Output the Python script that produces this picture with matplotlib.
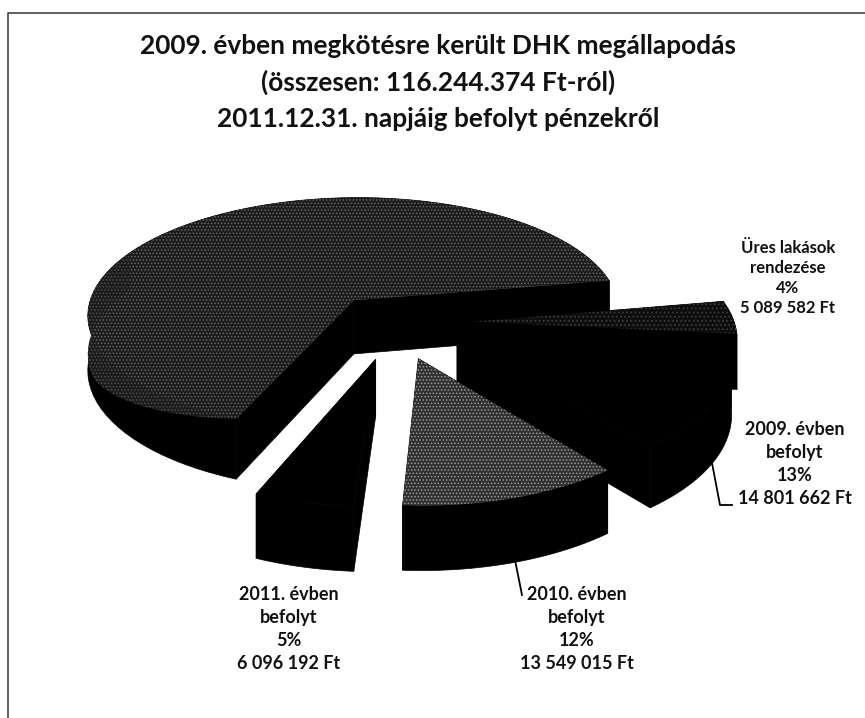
import numpy as np
import matplotlib
matplotlib.use('Agg')
import matplotlib.pyplot as plt
from matplotlib.patches import Polygon

plt.rcParams['font.family'] = ['Lato', 'DejaVu Sans']
plt.rcParams['hatch.linewidth'] = 0.7

# adatok
title = '2009. évben megkötésre került DHK megállapodás\n(összesen: 116.244.374 Ft-ról)\n2011.12.31. napjáig befolyt pénzekről'
total = 116244374
names = ['Üres lakások\nrendezése', '2009. évben\nbefolyt', '2010. évben\nbefolyt', '2011. évben\nbefolyt']
amounts = [5089582, 14801662, 13549015, 6096192]
percents = ['4%', '13%', '12%', '5%']
rest = total - sum(amounts)

# szeletek sorrendje: az óramutató járása szerint a -10 foktól
values = amounts + [rest]
explode = [0.30, 0.27, 0.30, 0.30, 0.25]
radius = [1, 1.02, 1, 1, 1.03]
start = -10

# 3D nézet
cx, cy = 394, 323
rx, ry = 262, 120
persp = 0.12
depth = 55


def project(u, v, drop=0.0):
    f = 1 / (1 - persp * v)
    return cx + rx * u * f, cy + ry * v * f + drop * depth * f


fig, ax = plt.subplots(figsize=(8.65, 7.18), dpi=100)
ax.set_position([0, 0, 1, 1])
ax.set_xlim(0, 865)
ax.set_ylim(718, 0)
ax.axis('off')

angles = start + np.cumsum([0] + values) / total * 360

# hátulról előre: nagy szelet, üres lakások, 2009, 2011, 2010
order = [4, 0, 1, 3, 2]
tops = {4: ('#1c1c1c', '#666666', '.....'), 0: ('#0e0e0e', '#3f3f3f', '....'), 2: ('#303030', '#9a9a9a', '.....')}
for i in order:
    a0, a1 = angles[i], angles[i + 1]
    mid = np.radians((a0 + a1) / 2)
    ou, ov = explode[i] * np.cos(mid), explode[i] * np.sin(mid)
    deg = np.linspace(a0, a1, 80)
    u = ou + radius[i] * np.cos(np.radians(deg))
    v = ov + np.sin(np.radians(deg))
    top = [project(a, b) for a, b in zip(u, v)]
    bottom = [project(a, b, 1) for a, b in zip(u, v)]
    apex = project(ou, ov)
    apex_b = project(ou, ov, 1)
    # oldalfalak
    ax.add_patch(Polygon(top + bottom[::-1], fc='black', ec='black', lw=0.5))
    ax.add_patch(Polygon([apex, top[0], bottom[0], apex_b], fc='black', ec='black', lw=0.5))
    ax.add_patch(Polygon([apex, top[-1], bottom[-1], apex_b], fc='black', ec='black', lw=0.5))
    # felső lap
    if i in tops:
        fc, ec, hatch = tops[i]
        ax.add_patch(Polygon([apex] + top, fc=fc, ec=ec, hatch=hatch, lw=0))
    else:
        ax.add_patch(Polygon([apex] + top, fc='black', ec='black', lw=0.5))
    # a nagy szelet bal oldali fala felül világosabb
    if i == 4:
        keep = deg < a0 + 95
        frac = np.clip((deg[keep] - a0) / 70, 0, 0.7)
        low = [project(a, b, c) for a, b, c in zip(u[keep], v[keep], frac)]
        ax.add_patch(Polygon(top[:len(low)] + low[::-1], fc='#1c1c1c', ec='#4e4e4e', hatch='.....', lw=0))

# feliratok
label_pos = [(788, 278), (795, 464), (577, 629), (289, 629)]
label_size = [12, 13, 13, 13]
label_gap = [1.3, 1.42, 1.42, 1.42]
for name, pct, amount, pos, size, gap in zip(names, percents, amounts, label_pos, label_size, label_gap):
    money = f'{amount:,}'.replace(',', ' ') + ' Ft'
    ax.text(pos[0], pos[1], f'{name}\n{pct}\n{money}', ha='center', va='center',
            fontsize=size, fontweight='bold', color='#111111', linespacing=gap)

# vezetővonalak
ax.plot([712, 720, 732], [463, 505, 505], color='black', lw=1.3)
ax.plot([515, 522], [560, 595], color='black', lw=1.3)

ax.text(438, 82.5, title, ha='center', va='center', fontsize=18.9, fontweight='bold',
        color='#111111', linespacing=1.58)

# keret: a szkennelt kép felső és bal széle
ax.plot([865, 8, 8], [13, 13, 718], color='#444444', lw=1.2)

fig.savefig('out.png', dpi=100)
